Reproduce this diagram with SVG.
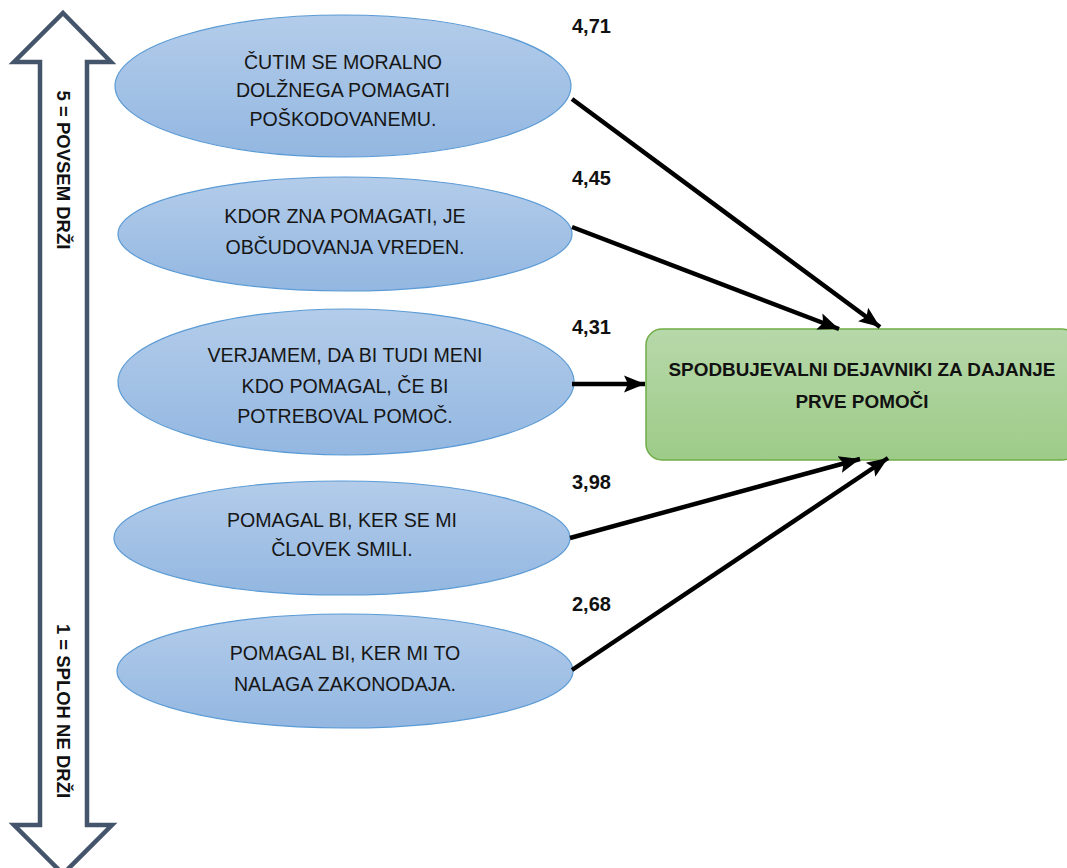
<svg xmlns="http://www.w3.org/2000/svg" width="1067" height="868" viewBox="0 0 1067 868">
  <defs>
    <linearGradient id="blueFill" x1="0" y1="0" x2="0" y2="1">
      <stop offset="0" stop-color="#B3CCEA"/>
      <stop offset="1" stop-color="#93B7E1"/>
    </linearGradient>
    <linearGradient id="greenFill" x1="0" y1="0" x2="0" y2="1">
      <stop offset="0" stop-color="#B7D8AA"/>
      <stop offset="1" stop-color="#9DCB88"/>
    </linearGradient>
    <marker id="head" markerUnits="userSpaceOnUse" markerWidth="24" markerHeight="20" refX="21" refY="10" orient="auto">
      <path d="M0,1.5 L21,10 L0,18.5 L4,10 Z" fill="#000"/>
    </marker>
    <style>
      .statement { fill: url(#blueFill); stroke: #5B9BD5; stroke-width: 1.2; }
      .stext { font-family: "Liberation Sans", Arial, sans-serif; font-size: 19.6px; fill: #161616; text-anchor: middle; }
      .score { font-family: "Liberation Sans", Arial, sans-serif; font-size: 20px; font-weight: bold; fill: #111; }
      .scale { font-family: "Liberation Sans", Arial, sans-serif; font-size: 18.5px; font-weight: bold; fill: #111; text-anchor: middle; }
      .target { fill: url(#greenFill); stroke: #70AD47; stroke-width: 1.5; }
      .ttext { font-family: "Liberation Sans", Arial, sans-serif; font-size: 18.9px; font-weight: bold; fill: #111; text-anchor: middle; }
      .link { stroke: #000; stroke-width: 4.5; fill: none; marker-end: url(#head); }
    </style>
  </defs>

  <rect width="1067" height="868" fill="#fff"/>

  <!-- rating scale: double-headed arrow -->
  <g id="scale">
    <path d="M63,13 L111,62 L87,62 L87,825 L112,825 L63,874 L14,825 L40,825 L40,62 L14,62 Z" fill="#fff" stroke="#44546A" stroke-width="4.5" stroke-linejoin="miter"/>
    <text class="scale" transform="translate(57,170) rotate(90)">5 = POVSEM DRŽI</text>
    <text class="scale" transform="translate(57,711) rotate(90)">1 = SPLOH NE DRŽI</text>
  </g>

  <!-- statements -->
  <g id="s1">
    <ellipse class="statement" cx="343" cy="86" rx="228" ry="71"/>
    <text class="stext" x="343" y="69">ČUTIM SE MORALNO</text>
    <text class="stext" x="343" y="97">DOLŽNEGA POMAGATI</text>
    <text class="stext" x="343" y="126">POŠKODOVANEMU.</text>
  </g>
  <g id="s2">
    <ellipse class="statement" cx="345" cy="234" rx="227" ry="57"/>
    <text class="stext" x="345" y="223">KDOR ZNA POMAGATI, JE</text>
    <text class="stext" x="345" y="254">OBČUDOVANJA VREDEN.</text>
  </g>
  <g id="s3">
    <ellipse class="statement" cx="346" cy="382" rx="228" ry="73"/>
    <text class="stext" x="345" y="362">VERJAMEM, DA BI TUDI MENI</text>
    <text class="stext" x="345" y="393">KDO POMAGAL, ČE BI</text>
    <text class="stext" x="345" y="423">POTREBOVAL POMOČ.</text>
  </g>
  <g id="s4">
    <ellipse class="statement" cx="342" cy="538" rx="228" ry="57"/>
    <text class="stext" x="342" y="527">POMAGAL BI, KER SE MI</text>
    <text class="stext" x="342" y="556">ČLOVEK SMILI.</text>
  </g>
  <g id="s5">
    <ellipse class="statement" cx="345" cy="671" rx="228" ry="57"/>
    <text class="stext" x="345" y="660">POMAGAL BI, KER MI TO</text>
    <text class="stext" x="345" y="691">NALAGA ZAKONODAJA.</text>
  </g>

  <!-- outcome -->
  <g id="target">
    <rect class="target" x="646" y="329" width="432" height="131" rx="16" ry="16"/>
    <text class="ttext" x="862" y="376">SPODBUJEVALNI DEJAVNIKI ZA DAJANJE</text>
    <text class="ttext" x="862" y="408">PRVE POMOČI</text>
  </g>

  <!-- mean scores -->
  <g id="scores">
    <text class="score" x="572" y="33">4,71</text>
    <text class="score" x="572" y="185">4,45</text>
    <text class="score" x="572" y="334">4,31</text>
    <text class="score" x="572" y="489">3,98</text>
    <text class="score" x="572" y="611">2,68</text>
  </g>

  <!-- connectors -->
  <g id="connectors">
    <line class="link" x1="572" y1="99" x2="880" y2="327"/>
    <line class="link" x1="572" y1="227" x2="839" y2="329"/>
    <line class="link" x1="572" y1="384" x2="645" y2="384"/>
    <line class="link" x1="570" y1="538" x2="860" y2="459"/>
    <line class="link" x1="572" y1="670" x2="888" y2="458"/>
  </g>
</svg>
